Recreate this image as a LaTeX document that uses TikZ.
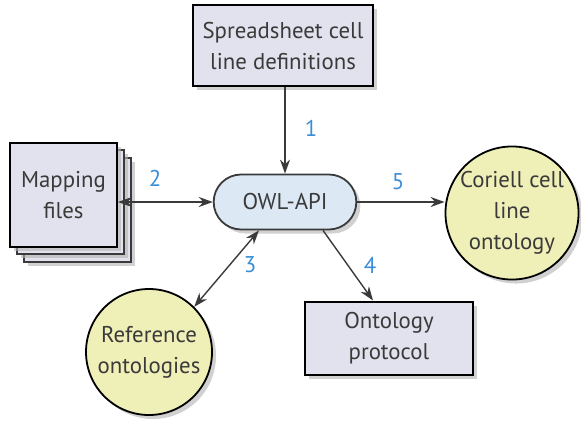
\documentclass[tikz,border=0pt]{standalone}
\usepackage{fontspec}
\setmainfont{PT Sans}
\usepackage{tikz}
\usetikzlibrary{arrows.meta,shapes,shadows,positioning}
\definecolor{boxfill}{HTML}{E2E2EE}
\definecolor{apifill}{HTML}{DCE8F4}
\definecolor{ontfill}{HTML}{EFEFB8}
\definecolor{numblue}{HTML}{3A8ED8}
\definecolor{ink}{HTML}{3A3A3A}

\tikzset{
  shade/.style={drop shadow={shadow xshift=2pt,shadow yshift=-2pt,fill=gray!60,opacity=.6}},
  filebox/.style={draw=black,line width=1pt,fill=boxfill,text=ink,align=center,inner sep=0pt,shade},
  pagebox/.style={draw=ink,line width=0.6pt,fill=boxfill,minimum width=53.5pt,minimum height=52pt,shade},
  apibox/.style={rounded rectangle,draw=ink,line width=0.9pt,fill=apifill,text=ink,minimum width=78pt,minimum height=27.5pt,shade},
  ontcircle/.style={circle,draw=black,line width=0.9pt,fill=ontfill,text=ink,align=center,minimum size=63pt,inner sep=0pt,shade},
  num/.style={text=numblue},
  link/.style={draw=ink,line width=0.7pt}
}

\begin{document}
\begin{tikzpicture}[x=0.5pt,y=-0.5pt,>={Stealth[length=7pt,width=5pt]},font=\fontsize{11.4}{15.5}\selectfont]
\useasboundingbox (0,0) rectangle (581,422);
\node[filebox,minimum width=90pt,minimum height=40.5pt] (sheet) at (283,46) {Spreadsheet cell\\line definitions};
\node[apibox] (owl) at (285,202) {OWL-API};
\node[pagebox] (back2) at (77.5,210) {};
\node[pagebox] (back1) at (70.5,202) {};
\node[filebox,minimum width=53.5pt,minimum height=52pt] (map) at (63.5,195) {Mapping\\files};
\node[ontcircle] (cor) at (512,213) {Coriell cell\\line\\ontology};
\node[ontcircle] (ref) at (149,352) {Reference\\ontologies};
\node[filebox,minimum width=84pt,minimum height=36.5pt] (prot) at (389,338) {Ontology\\protocol};

\draw[link,->] (sheet.south -| owl.north) -- (owl.north);
\draw[link,<->] (owl.west) -- (owl.west -| map.east);
\draw[link,->] (owl.east) -- (owl.east -| cor.west);
\draw[link,<->] (ref.45) -- ([xshift=-13pt]owl.south);
\draw[link,->] ([xshift=19pt]owl.south) -- ([xshift=-8pt]prot.north);

\node[num] (n1) at (311,128) {1};
\node[num] (n2) at (155,178) {2};
\node[num] (n3) at (250,265) {3};
\node[num] (n4) at (370,265) {4};
\node[num] (n5) at (398,182) {5};
\end{tikzpicture}
\end{document}
